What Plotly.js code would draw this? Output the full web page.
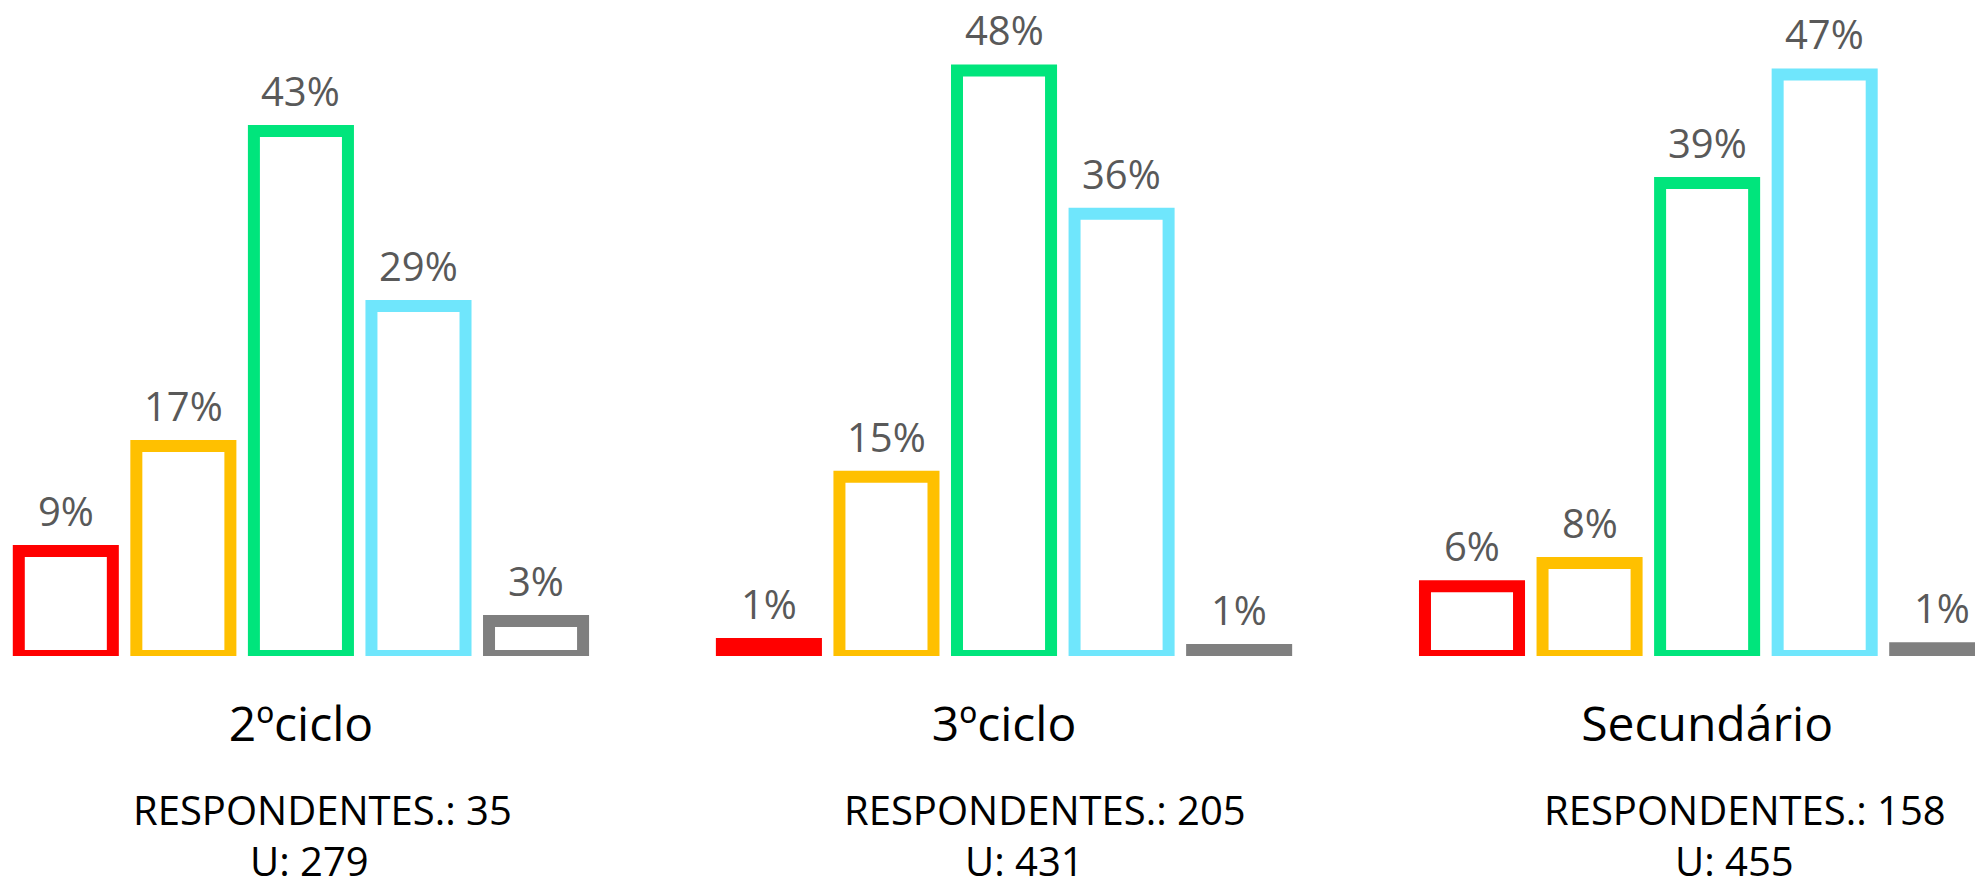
<!DOCTYPE html>
<html><head><meta charset="utf-8">
<script src="https://cdn.plot.ly/plotly-3.0.1.min.js"></script>
<style>html,body{margin:0;padding:0;background:#fff;}#chart{width:1975px;height:888px;}</style>
</head><body><div id="chart"></div>
<script>
// Categories and footers
const categories = ['2ºciclo', '3ºciclo', 'Secundário'];
const respondentes = [35, 205, 158];
const unidades = [279, 431, 455];

// Series (percent of respondents), one value per category
const seriesNames = ['Série 1', 'Série 2', 'Série 3', 'Série 4', 'Série 5'];
const seriesColors = ['#FF0000', '#FFC000', '#00E57C', '#6FE6FC', '#7F7F7F'];
const serie1 = [8.57, 0.98, 5.70];
const serie2 = [17.14, 14.63, 7.59];
const serie3 = [42.86, 47.80, 38.61];
const serie4 = [28.57, 36.10, 47.47];
const serie5 = [2.86, 0.49, 0.63];
// Data labels as printed
const labels1 = ['9%', '1%', '6%'];
const labels2 = ['17%', '15%', '8%'];
const labels3 = ['43%', '48%', '39%'];
const labels4 = ['29%', '36%', '47%'];
const labels5 = ['3%', '1%', '1%'];

const seriesValues = [serie1, serie2, serie3, serie4, serie5];
const seriesLabels = [labels1, labels2, labels3, labels4, labels5];

// styling
const FONT = 'Open Sans';
const BARGAP = 0.164;
const NS = seriesValues.length;
const respShift = [22, 41, 38];   // horizontal nudges of the footer text boxes (px)
const uShift = [9, 20, 27];

const traces = seriesValues.map((vals, i) => ({
  type: 'bar',
  name: seriesNames[i],
  x: categories,
  y: vals,
  marker: {color: '#FFFFFF', line: {color: seriesColors[i], width: 12}},
  hoverinfo: 'skip',
  showlegend: false
}));

// data labels above each bar (positioned on the category scale: index + group offset)
const slot = (1 - BARGAP) / NS;
const annotations = [];
seriesValues.forEach((vals, s) => {
  vals.forEach((v, c) => {
    annotations.push({
      x: c - (1 - BARGAP) / 2 + (s + 0.5) * slot, xref: 'x',
      y: v, yref: 'y', xanchor: 'center', yanchor: 'bottom', yshift: 11,
      showarrow: false, text: seriesLabels[s][c],
      font: {family: FONT, size: 40, color: '#595959'}
    });
  });
});
categories.forEach((c, i) => {
  annotations.push({
    x: c, xref: 'x', y: 0, yref: 'paper', yanchor: 'top', xanchor: 'center',
    xshift: respShift[i], yshift: -124, showarrow: false,
    text: 'RESPONDENTES.: ' + respondentes[i],
    font: {family: FONT, size: 40, color: '#000000'}
  });
  annotations.push({
    x: c, xref: 'x', y: 0, yref: 'paper', yanchor: 'top', xanchor: 'center',
    xshift: uShift[i], yshift: -175, showarrow: false,
    text: 'U: ' + unidades[i],
    font: {family: FONT, size: 40, color: '#000000'}
  });
});

const layout = {
  width: 1975, height: 888,
  margin: {l: 0, r: 0, t: 0, b: 232, pad: 0},
  paper_bgcolor: '#FFFFFF', plot_bgcolor: '#FFFFFF',
  barmode: 'group', bargap: BARGAP, bargroupgap: 0.2,
  xaxis: {
    type: 'category', range: [-0.428, 2.381],
    tickfont: {family: FONT, size: 48, color: '#000000'},
    ticks: '', showline: false, showgrid: false, zeroline: false,
    ticklabelstandoff: 36, fixedrange: true
  },
  yaxis: {
    range: [0, 53.55], visible: false, showgrid: false, zeroline: false, fixedrange: true
  },
  annotations: annotations,
  font: {family: FONT}
};

Plotly.newPlot('chart', traces, layout, {displayModeBar: false, staticPlot: true});
</script>
</body></html>
